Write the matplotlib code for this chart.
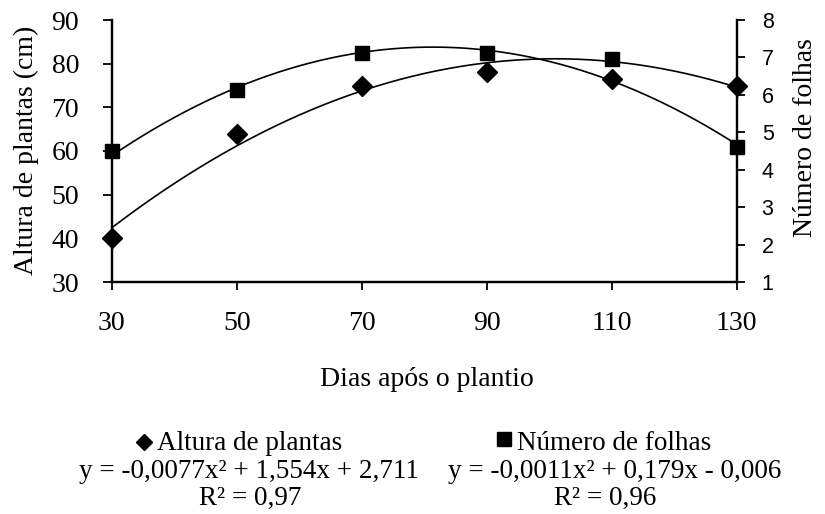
import numpy as np
import matplotlib.pyplot as plt

# dias apos o plantio
dias = [30, 50, 70, 90, 110, 130]
altura = [40, 64, 75, 78, 76.5, 75]          # cm (eixo esquerdo)
folhas = [4.5, 6.13, 7.12, 7.12, 6.95, 4.62]  # numero (eixo direito)

# coeficientes das linhas de tendencia (da legenda)
coef_altura = [-0.0077, 1.554, 2.711]
coef_folhas = [-0.0011, 0.179, -0.006]

xticks = [30, 50, 70, 90, 110, 130]
yticks_left = [30, 40, 50, 60, 70, 80, 90]
yticks_right = [1, 2, 3, 4, 5, 6, 7, 8]

serif = ['Liberation Serif', 'DejaVu Serif']
sans = ['Liberation Sans', 'DejaVu Sans']
W, H = 825, 514

fig = plt.figure(figsize=(W / 100, H / 100), dpi=100)
ax = fig.add_axes([111.7 / W, 1 - 282 / H, 625 / W, 262 / H])
ax2 = ax.twinx()

xs = np.linspace(30, 130, 300)
ax.plot(xs, np.polyval(coef_altura, xs), color='black', lw=1.2)
ax2.plot(xs, np.polyval(coef_folhas, xs), color='black', lw=1.2)
ax.plot(dias, altura, linestyle='none', marker='D', ms=10, color='black', clip_on=False, zorder=5)
ax2.plot(dias, folhas, linestyle='none', marker='s', ms=10, color='black', clip_on=False, zorder=5)

ax.set_xlim(30, 130)
ax.set_ylim(30, 90)
ax2.set_ylim(1, 8)
ax.set_xticks(xticks)
ax.set_yticks(yticks_left)
ax2.set_yticks(yticks_right)

for a in (ax, ax2):
    a.spines['top'].set_visible(False)
    for s in a.spines.values():
        s.set_linewidth(1.6)
ax.tick_params(axis='x', direction='out', length=6, width=1.3, labelsize=20, pad=15)
ax.tick_params(axis='y', direction='out', length=6.5, width=1.3, labelsize=20, pad=17)
ax2.tick_params(axis='y', direction='out', length=6, width=1.3, labelsize=15.5, pad=12)
for lab in ax.get_xticklabels() + ax.get_yticklabels():
    lab.set_family(serif)
for lab in ax2.get_yticklabels():
    lab.set_family(sans)


def ftext(x, y, s, **kw):
    opts = dict(ha='center', va='baseline', fontsize=19.5, family=serif)
    opts.update(kw)
    fig.text(x / W, 1 - y / H, s, **opts)


# titulos dos eixos
ftext(26, 150, 'Altura de plantas (cm)', rotation=90, va='center', fontsize=20)
ftext(806, 138, 'Número de folhas', rotation=90, va='center', fontsize=20)
ftext(427, 386, 'Dias após o plantio', fontsize=20)

# legenda
fig.lines.append(plt.Line2D([143.5 / W], [1 - 442 / H], marker='D', ms=8,
                            color='black', transform=fig.transFigure))
fig.lines.append(plt.Line2D([504 / W], [1 - 439 / H], marker='s', ms=10.5,
                            color='black', transform=fig.transFigure))
ftext(157, 450, 'Altura de plantas', ha='left')
ftext(249, 478, 'y = -0,0077x² + 1,554x + 2,711')
ftext(250, 505, 'R² = 0,97')
ftext(517, 450, 'Número de folhas', ha='left')
ftext(615, 478, 'y = -0,0011x² + 0,179x - 0,006')
ftext(605, 505, 'R² = 0,96')

fig.savefig('out.png', dpi=100)
